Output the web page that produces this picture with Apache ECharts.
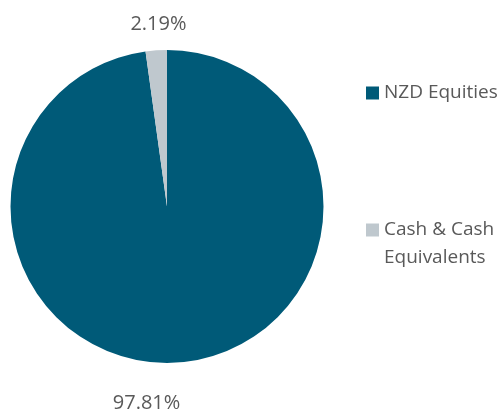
<!DOCTYPE html>
<html>
<head>
<meta charset="utf-8">
<script src="https://cdn.jsdelivr.net/npm/echarts@6/dist/echarts.min.js"></script>
<style>
  html, body { margin: 0; padding: 0; background: #fff; }
  #chart { width: 502px; height: 412px; }
</style>
</head>
<body>
<div id="chart"></div>
<script>
// 数据
const categories = ["NZD Equities", "Cash & Cash Equivalents"];
const legendNames = ["NZD Equities", "\nCash & Cash\nEquivalents"];
const shares = [97.81, 2.19];
const colors = ["#005a78", "#bfc8ce"];

// 标签微调（Excel 的标签位置）
const labelLen = [41, 26];
const labelNudgeX = [-34, 4];

const chart = echarts.init(document.getElementById("chart"));
const fontFamily = "'Open Sans', sans-serif";
const textColor = "#595959";

function legendFor(i, top) {
  return {
    orient: "vertical",
    left: 366,
    top: top,
    padding: 0,
    icon: "rect",
    itemWidth: 13,
    itemHeight: 13,
    selectedMode: false,
    data: [categories[i]],
    formatter: () => legendNames[i],
    textStyle: { fontFamily, fontSize: 19, color: textColor, lineHeight: 28 },
  };
}

const option = {
  animation: false,
  color: colors,
  legend: [legendFor(0, 79), legendFor(1, 188)],
  series: [
    {
      type: "pie",
      center: [167, 206.5],
      radius: 156.5,
      startAngle: 90,
      clockwise: true,
      avoidLabelOverlap: false,
      itemStyle: { borderWidth: 0 },
      emphasis: { disabled: true },
      label: {
        show: true,
        position: "outside",
        distanceToLabelLine: 0,
        fontFamily,
        fontSize: 20,
        color: textColor,
        formatter: (p) => p.value.toFixed(2) + "%",
      },
      labelLine: { show: false, length2: 0 },
      labelLayout: (p) => {
        const r = p.labelRect;
        const cx = p.align === "right" ? r.x + r.width : r.x;
        return {
          x: cx + labelNudgeX[p.dataIndex],
          y: r.y + r.height / 2,
          align: "center",
          verticalAlign: "middle",
        };
      },
      data: categories.map((name, i) => ({
        name,
        value: shares[i],
        labelLine: { length: labelLen[i] },
      })),
    },
  ],
};

chart.setOption(option);
</script>
</body>
</html>
